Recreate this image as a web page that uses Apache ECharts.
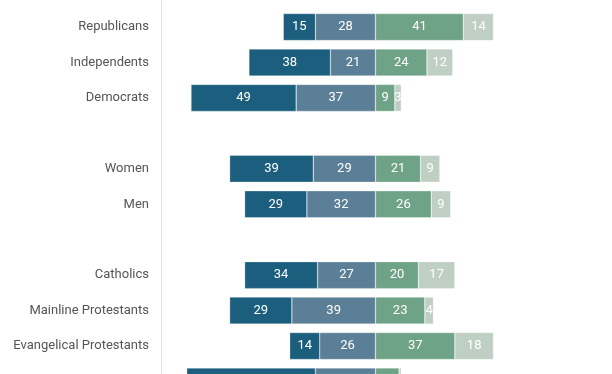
<!DOCTYPE html>
<html>
<head>
<meta charset="utf-8">
<script src="https://cdn.jsdelivr.net/npm/echarts@6/dist/echarts.min.js"></script>
<style>html,body{margin:0;padding:0;background:#fff;overflow:hidden;width:612px;height:374px;}#c{width:612px;height:400px;}</style>
</head>
<body>
<div id="c"></div>
<script>
const categories = ['Republicans','Independents','Democrats','','Women','Men','','Catholics','Mainline Protestants','Evangelical Protestants','Unaffiliated'];
const darkVals  = [15, 38, 49, null, 39, 29, null, 34, 29, 14, 60];
const midVals   = [28, 21, 37, null, 29, 32, null, 27, 39, 26, 28];
const greenVals = [41, 24, 9, null, 21, 26, null, 20, 23, 37, 11];
const lightVals = [14, 12, 3, null, 9, 9, null, 17, 4, 18, 1];
const colors = { dark:'#1b5e7d', mid:'#5b7f96', green:'#6fa387', light:'#bfcfc4' };

const neg = a => a.map(v => v == null ? null : -v);
const lbl = {
  show: true, position: 'inside', color: '#fff', fontSize: 13,
  fontFamily: 'Roboto', formatter: p => Math.abs(p.value)
};
function s(name, data, color) {
  return { name, type: 'bar', stack: 'all', data, barWidth: 27,
    itemStyle: { color, borderColor: 'rgba(255,255,255,0.6)', borderWidth: 0.5 },
    label: lbl, silent: true };
}
const chart = echarts.init(document.getElementById('c'));
chart.setOption({
  animation: false,
  grid: [
    { left: 161, width: 429, top: 9.3, height: 389.9, containLabel: false },
    { left: 161, width: 429, top: 0, height: 400, containLabel: false }
  ],
  xAxis: [
    { type: 'value', min: -100, max: 100, show: false, gridIndex: 0 },
    { type: 'value', min: 0, max: 1, show: false, gridIndex: 1 }
  ],
  yAxis: [
    {
      type: 'category', data: categories, inverse: true, gridIndex: 0,
      axisLine: { show: false },
      axisTick: { show: false },
      axisLabel: { color: '#555', fontSize: 13, fontFamily: 'Roboto', margin: 12 }
    },
    {
      type: 'value', min: 0, max: 1, gridIndex: 1,
      axisLine: { show: true, onZero: false, lineStyle: { color: '#e3e3e3', width: 1 } },
      axisTick: { show: false }, axisLabel: { show: false }, splitLine: { show: false }
    }
  ],
  series: [
    s('mid', neg(midVals), colors.mid),
    s('dark', neg(darkVals), colors.dark),
    s('green', greenVals, colors.green),
    s('light', lightVals, colors.light)
  ]
});
</script>
</body>
</html>
